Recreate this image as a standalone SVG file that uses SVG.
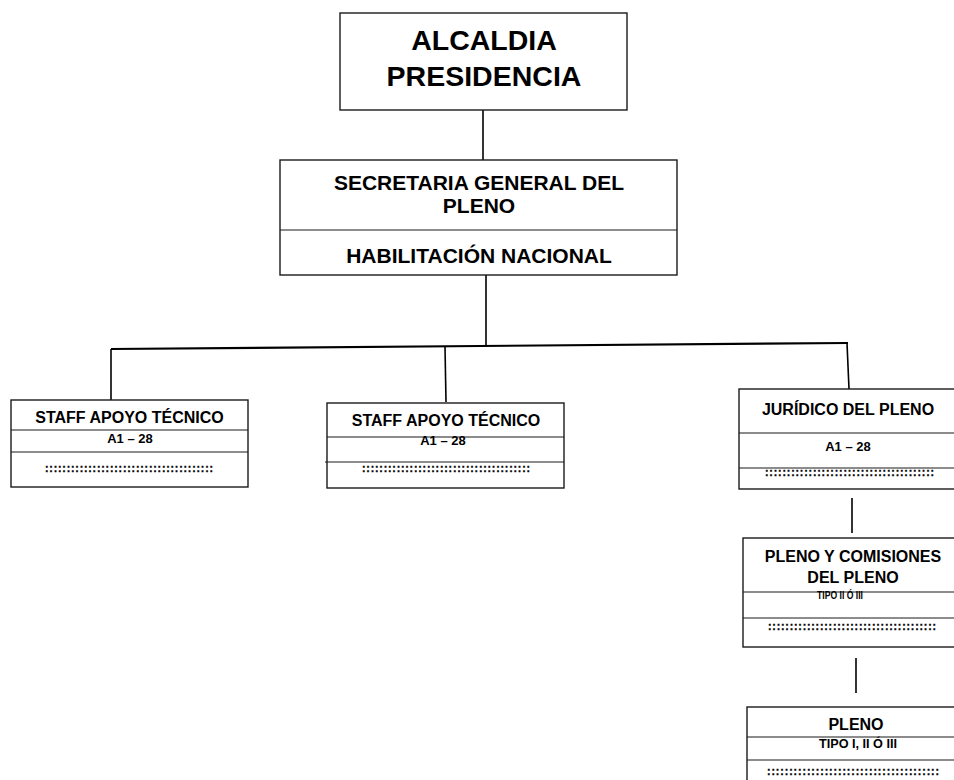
<svg xmlns="http://www.w3.org/2000/svg" width="954" height="780" viewBox="0 0 954 780">
<style>
.box{fill:#fff;stroke:#1a1a1a;stroke-width:1.4}
.div{stroke:#1a1a1a;stroke-width:1.2;fill:none}
.con{stroke:#000;stroke-width:1.6;fill:none}
text{font-family:"Liberation Sans",Arial,sans-serif;font-weight:bold;fill:#000;text-anchor:middle}
.t16{font-size:16px}
.t13{font-size:13px}
.dots{font-size:10.5px;text-anchor:start;stroke:#000;stroke-width:0.35}
</style>
<rect width="954" height="780" fill="#fff"/>
<g id="connectors">
<line class="con" x1="483" y1="110" x2="483" y2="160"/>
<line class="con" x1="486" y1="275" x2="486" y2="346"/>
<line class="con" x1="111" y1="349" x2="848" y2="343" style="stroke-width:2.2"/>
<line class="con" x1="111" y1="349" x2="111" y2="400"/>
<line class="con" x1="445" y1="347" x2="446" y2="402"/>
<line class="con" x1="847" y1="343" x2="849" y2="389"/>
<line class="con" x1="852" y1="498" x2="852" y2="533"/>
<line class="con" x1="856" y1="658" x2="856" y2="693"/>
</g>
<g id="alcaldia">
<rect class="box" x="340" y="13" width="287" height="97"/>
<text x="484" y="50" style="font-size:28.5px">ALCALDIA</text>
<text x="484" y="86" style="font-size:28.5px">PRESIDENCIA</text>
</g>
<g id="secretaria">
<rect class="box" x="280" y="160" width="397" height="115"/>
<line class="div" x1="280" y1="230" x2="677" y2="230"/>
<text x="479" y="190" style="font-size:21px">SECRETARIA GENERAL DEL</text>
<text x="479" y="213" style="font-size:21px">PLENO</text>
<text x="479" y="263" style="font-size:21px">HABILITACIÓN NACIONAL</text>
</g>
<g id="staff1">
<rect class="box" x="11" y="400" width="237" height="87"/>
<line class="div" x1="11" y1="430" x2="248" y2="430"/>
<line class="div" x1="11" y1="452" x2="248" y2="452"/>
<text class="t16" x="129.5" y="423">STAFF APOYO TÉCNICO</text>
<text class="t13" x="130" y="443">A1 – 28</text>
<text class="dots" x="45" y="471.5" textLength="168">:::::::::::::::::::::::::::::::::::::::</text>
</g>
<g id="staff2">
<rect class="box" x="327" y="403" width="237" height="85"/>
<line class="div" x1="327" y1="437" x2="564" y2="437"/>
<line class="div" x1="325" y1="462" x2="564" y2="462"/>
<text class="t16" x="446" y="426">STAFF APOYO TÉCNICO</text>
<text class="t13" x="443" y="445">A1 – 28</text>
<text class="dots" x="362" y="471.5" textLength="168">:::::::::::::::::::::::::::::::::::::::</text>
</g>
<g id="juridico">
<rect class="box" x="739" y="389" width="220" height="100"/>
<line class="div" x1="739" y1="433" x2="959" y2="433"/>
<line class="div" x1="739" y1="468" x2="959" y2="468"/>
<text class="t16" x="848" y="415">JURÍDICO DEL PLENO</text>
<text class="t13" x="848" y="451">A1 – 28</text>
<text class="dots" x="765" y="476" textLength="169">:::::::::::::::::::::::::::::::::::::::</text>
</g>
<g id="pleno-comisiones">
<rect class="box" x="743" y="538" width="220" height="109"/>
<line class="div" x1="743" y1="592" x2="963" y2="592"/>
<line class="div" x1="743" y1="618" x2="963" y2="618"/>
<text class="t16" x="853" y="562">PLENO Y COMISIONES</text>
<text class="t16" x="853" y="583">DEL PLENO</text>
<text x="840" y="598.5" style="font-size:10px" textLength="46" lengthAdjust="spacingAndGlyphs">TIPO II Ó III</text>
<text class="dots" x="768" y="630" textLength="168">:::::::::::::::::::::::::::::::::::::::</text>
</g>
<g id="pleno">
<rect class="box" x="747" y="707" width="220" height="90"/>
<line class="div" x1="747" y1="737" x2="967" y2="737"/>
<line class="div" x1="747" y1="760" x2="967" y2="760"/>
<text class="t16" x="856" y="730">PLENO</text>
<text x="858" y="748" style="font-size:12.5px" textLength="78" lengthAdjust="spacingAndGlyphs">TIPO I, II Ó III</text>
<text class="dots" x="767" y="775" textLength="172">:::::::::::::::::::::::::::::::::::::::</text>
</g>
</svg>
